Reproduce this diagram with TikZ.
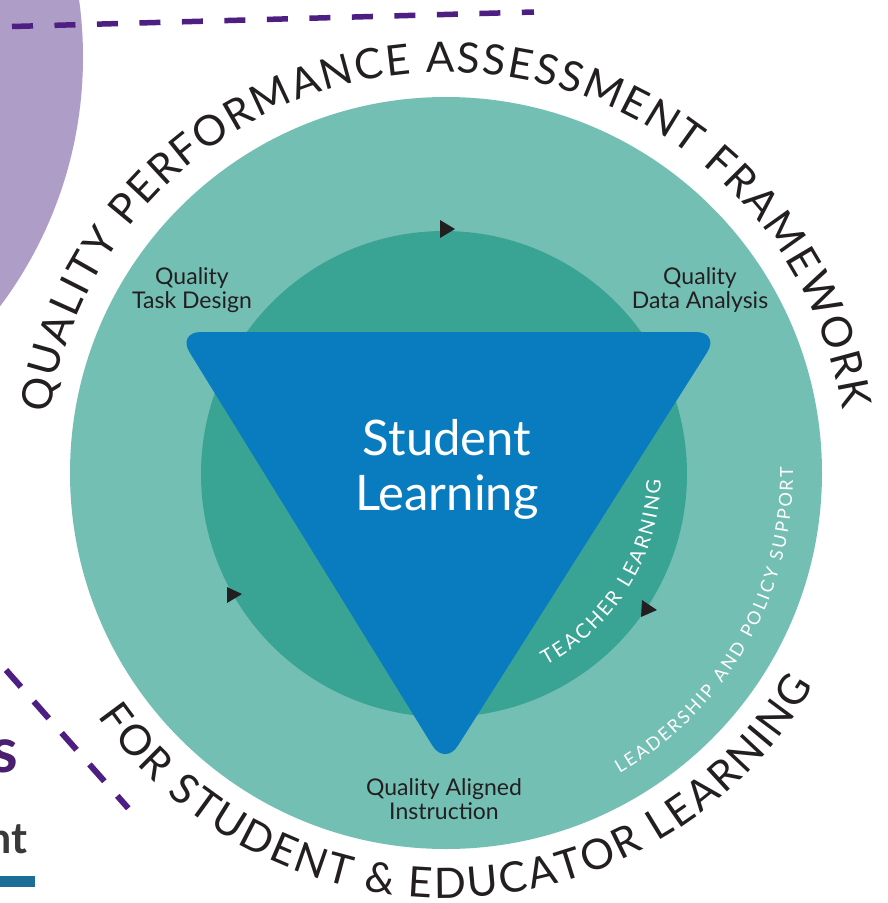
\documentclass[tikz,border=0pt]{standalone}
\usepackage{fontspec}
\setmainfont{Lato}
\usetikzlibrary{calc}
\definecolor{tealL}{HTML}{74BFB4}
\definecolor{tealD}{HTML}{3AA494}
\definecolor{triblue}{HTML}{087CBE}
\definecolor{lilac}{HTML}{AE9DC6}
\definecolor{dashpurple}{HTML}{4E1E82}
\definecolor{spurple}{HTML}{4A1F70}
\definecolor{ntgray}{HTML}{3B3838}
\definecolor{barblue}{HTML}{1C6E98}
\definecolor{inkblack}{HTML}{231F20}
\newcommand\bigcurvefont{\fontsize{42}{42}\selectfont}
\newcommand\midcurvefont{\fontsize{20}{20}\selectfont}
\newcommand\smallcurvefont{\fontsize{18}{18}\selectfont}
% measure character widths outside the picture
% #1 name, #2 font, #3 char list
\newcommand\measurearc[3]{%
  \gdef\arcsumtmp{0}\gdef\arccnttmp{0}%
  \foreach \ch [count=\ci] in {#3}{%
    \setbox0=\hbox{#2\ch}%
    \expandafter\xdef\csname arcw#1\ci\endcsname{\the\wd0}%
    \pgfmathsetmacro\tmpa{\arcsumtmp+\the\wd0}\global\let\arcsumtmp\tmpa
    \xdef\arccnttmp{\ci}%
  }%
  \expandafter\xdef\csname arcsum#1\endcsname{\arcsumtmp}%
  \expandafter\xdef\csname arccnt#1\endcsname{\arccnttmp}%
}
% place characters along an arc, fitted between two angles
% #1 center, #2 radius, #3 start angle, #4 end angle, #5 font, #6 node options, #7 name, #8 char list
\newcommand\arctext[8]{%
  \pgfmathsetmacro\arclen{abs(#4-#3)*pi/180*#2}%
  \pgfmathsetmacro\arctrack{(\arclen-\csname arcsum#7\endcsname)/(\csname arccnt#7\endcsname-1)}%
  \pgfmathsetmacro\arcdir{(#4>#3) ? 1 : -1}%
  \gdef\arcpos{0}%
  \foreach \ch [count=\ci] in {#8}{%
    \pgfmathsetmacro\chw{\csname arcw#7\ci\endcsname}%
    \pgfmathsetmacro\midang{#3+\arcdir*(\arcpos+\chw/2)/#2*180/pi}%
    \pgfmathsetmacro\rot{(\arcdir<0) ? (\midang-90) : (\midang+90)}%
    \node[anchor=base, inner sep=0pt, outer sep=0pt, rotate=\rot, font=#5, #6] (#7\ci) at ($(#1)+(\midang:#2)$) {\ch};
    \pgfmathsetmacro\tmpb{\arcpos+\chw+\arctrack}\global\let\arcpos\tmpb
  }%
}
\begin{document}
\measurearc{top}{\bigcurvefont}{Q,U,A,L,I,T,Y,~,P,E,R,F,O,R,M,A,N,C,E,~,A,S,S,E,S,S,M,E,N,T,~,F,R,A,M,E,W,O,R,K}%
\measurearc{bot}{\bigcurvefont}{F,O,R,~,S,T,U,D,E,N,T,~,\&,~,E,D,U,C,A,T,O,R,~,L,E,A,R,N,I,N,G}%
\measurearc{tl}{\midcurvefont}{T,E,A,C,H,E,R,~,L,E,A,R,N,I,N,G}%
\measurearc{lp}{\smallcurvefont}{L,E,A,D,E,R,S,H,I,P,~,A,N,D,~,P,O,L,I,C,Y,~,S,U,P,P,O,R,T}%
\begin{tikzpicture}[x=1pt,y=1pt,
  dashline/.style={draw=dashpurple, line width=5.5pt},
  lbl/.style={align=center, font=\fontsize{23}{24}\selectfont, text=inkblack, inner sep=0pt},
  arrowmark/.style={fill=inkblack}
]
\useasboundingbox (0,0) rectangle (888,-903);
\fill[white] (0,0) rectangle (888,-903);
\begin{scope}
  \clip (0,0) rectangle (888,-903);
  \fill[lilac] (-333,-57) circle[radius=416];
\end{scope}
% dashed lines
\coordinate (d1s) at (12,-26.5);
\coordinate (d1e) at (534,-12);
\draw[dashline, dash pattern=on 21pt off 21.5pt] (d1s) -- (d1e);
\coordinate (d2s) at (6,-670);
\coordinate (d2e) at (128.3,-808.3);
\draw[dashline, line width=6pt, dash pattern=on 22.5pt off 19.5pt] (d2s) -- (d2e);
% circles
\coordinate (C) at (446,-473);
\coordinate (Ci) at (444,-474);
\fill[tealL] (C) circle[radius=376];
\fill[tealD] (Ci) circle[radius=243];
% triangle
\fill[triblue, rounded corners=24pt] (177,-332) -- (720,-332) -- (445,-766) -- cycle;
% arrow marks
\fill[arrowmark] (440,-220) -- (440,-238) -- (455,-229) -- cycle;
\fill[arrowmark] (227,-587) -- (227,-603) -- (242,-594) -- cycle;
\fill[arrowmark] (642,-600) -- (641,-617) -- (657,-610) -- cycle;
% labels
\node[lbl] (qtd) at (192,-290) {Quality\\Task Design};
\node[lbl] (qda) at (700,-290) {Quality\\Data Analysis};
\node[lbl] (qai) at (444,-799) {Quality Aligned\\Instruction};
\node[align=center, inner sep=0pt, text=white, font=\fontsize{49}{55}\selectfont] (sl) at (447,-469) {Student\\Learning};
% curved texts
\arctext{C}{401}{171.5}{9}{\bigcurvefont}{text=inkblack}{top}{Q,U,A,L,I,T,Y,~,P,E,R,F,O,R,M,A,N,C,E,~,A,S,S,E,S,S,M,E,N,T,~,F,R,A,M,E,W,O,R,K}
\arctext{C}{425}{215}{330}{\bigcurvefont}{text=inkblack}{bot}{F,O,R,~,S,T,U,D,E,N,T,~,\&,~,E,D,U,C,A,T,O,R,~,L,E,A,R,N,I,N,G}
\arctext{Ci}{217}{-62}{-1.5}{\midcurvefont}{text=white}{tl}{T,E,A,C,H,E,R,~,L,E,A,R,N,I,N,G}
\arctext{C}{347}{-60}{1}{\smallcurvefont}{text=white}{lp}{L,E,A,D,E,R,S,H,I,P,~,A,N,D,~,P,O,L,I,C,Y,~,S,U,P,P,O,R,T}
% left edge fragments
\node[anchor=base east, inner sep=0pt, text=spurple, font=\bfseries\fontsize{63}{63}\selectfont] (frs) at (18,-772) {s};
\node[anchor=base east, inner sep=0pt, text=ntgray, font=\bfseries\fontsize{43}{43}\selectfont] (frnt) at (28,-853) {nt};
\fill[barblue] (0,-876) rectangle (35,-887);
\end{tikzpicture}
\end{document}
